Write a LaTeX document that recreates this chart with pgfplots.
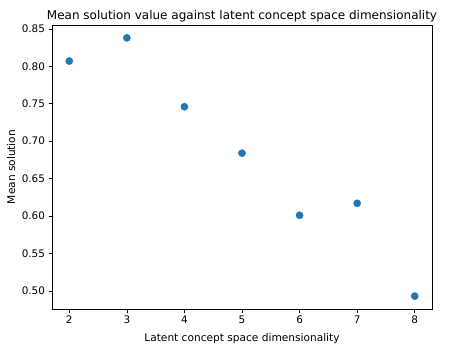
\documentclass[border=0pt]{standalone}
\usepackage{fontspec}
\setmainfont{DejaVu Sans}
\usepackage{pgfplots}
\pgfplotsset{compat=1.18}
\definecolor{mplblue}{HTML}{1F77B4}
\begin{document}
\begin{tikzpicture}
\begin{axis}[
  name=ax,
  scale only axis,
  width=380pt, height=284pt,
  xmin=1.7, xmax=8.3,
  ymin=0.4758, ymax=0.8552,
  xtick={2,3,4,5,6,7,8},
  ytick={0.50,0.55,0.60,0.65,0.70,0.75,0.80,0.85},
  /pgf/number format/assume math mode=true,
  yticklabel style={/pgf/number format/fixed,/pgf/number format/fixed zerofill,/pgf/number format/precision=2},
  tick style={black, line width=0.6pt},
  major tick length=3.5pt,
  tick align=outside,
  xtick pos=bottom, ytick pos=left,
  axis line style={line width=0.6pt},
  ticklabel style={font=\fontsize{10.4}{12}\selectfont},
  xlabel={Latent concept space dimensionality},
  xlabel style={font=\fontsize{10.6}{12}\selectfont, at={(axis description cs:0.5,0)}, anchor=base, inner sep=0pt, yshift=-32pt},
]
\addplot[only marks, mark=*, mark size=3.6pt, color=mplblue] coordinates {
(2,0.807) (3,0.838) (4,0.746) (5,0.684) (6,0.601) (7,0.617) (8,0.493)
};
\end{axis}
\node[rotate=90, anchor=base, inner sep=0pt, font=\fontsize{10.6}{12}\selectfont] at ([xshift=-37pt]ax.west) {Mean solution};
\node[anchor=base, inner sep=0pt, font=\fontsize{12}{14}\selectfont] at ([yshift=5pt]ax.north) {Mean solution value against latent concept space dimensionality};
\pgfresetboundingbox
\path[use as bounding box] ([shift={(-52pt,-35pt)}]ax.south west) rectangle ([shift={(18pt,25pt)}]ax.north east);
\end{tikzpicture}
\end{document}
